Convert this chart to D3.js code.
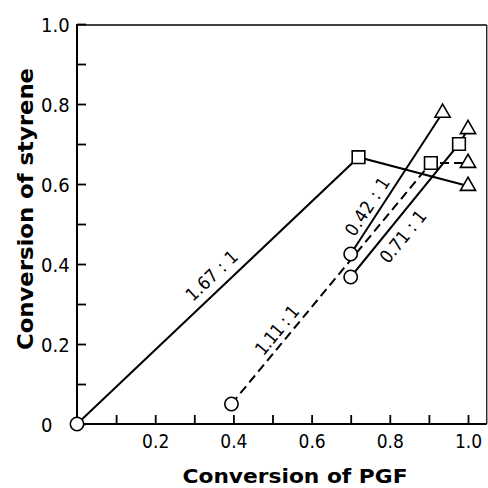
<!DOCTYPE html>
<html>
<head>
<meta charset="utf-8">
<script src="https://cdn.jsdelivr.net/npm/d3@7"></script>
<style>
  body { margin: 0; background: #fff; }
  svg { display: block; }
  .tick text { font-family: "Liberation Sans Narrow", "DejaVu Sans Condensed", "DejaVu Sans", sans-serif; font-stretch: condensed; }
</style>
</head>
<body>
<div id="chart"></div>
<script>
// ratio of each run (PGF : styrene)
var ratios = ["1.67 : 1", "1.11 : 1", "0.42 : 1", "0.71 : 1"];
// conversion of PGF for each point of a run
var pgf = [
  [0, 0.72, 1.0],
  [0.395, 0.905, 1.0],
  [0.70, 0.935],
  [0.70, 0.977, 1.0]
];
// conversion of styrene for each point of a run
var styrene = [
  [0, 0.667, 0.595],
  [0.05, 0.6525, 0.6525],
  [0.425, 0.778],
  [0.3675, 0.70, 0.737]
];
// marker used at each point
var shapes = [
  ["circle", "square", "triangle"],
  ["circle", "square", "triangle"],
  ["circle", "triangle"],
  ["circle", "square", "triangle"]
];
var dashed = [false, true, false, false];

var xTicks = [0.1, 0.2, 0.3, 0.4, 0.5, 0.6, 0.7, 0.8, 0.9, 1.0];
var yTicks = [0, 0.1, 0.2, 0.3, 0.4, 0.5, 0.6, 0.7, 0.8, 0.9, 1.0];

//Width and height
var w = 488;
var h = 488;

var xScale = d3.scaleLinear().domain([0, 1]).range([77, 468]);
var yScale = d3.scaleLinear().domain([0, 1]).range([424, 24]);
var xMax = 1.048; // frame goes a bit past 1.0

var svg = d3.select("#chart")
  .append("svg")
  .attr("width", w)
  .attr("height", h);

var fmt = function(d) { return d === 0 ? "0" : d3.format(".1f")(d); };
var isMajor = function(d) { return Math.round(d * 10) % 2 === 0; };

//X axis, ticks pointing inward
var xAxis = d3.axisBottom(xScale)
  .tickValues(xTicks)
  .tickSizeInner(-9)
  .tickSizeOuter(0)
  .tickFormat(function(d) { return isMajor(d) ? fmt(d) : ""; });

var gx = svg.append("g")
  .attr("transform", "translate(0," + yScale(0) + ")")
  .call(xAxis);
gx.select(".domain").remove();
gx.selectAll(".tick line").attr("stroke", "#000").attr("stroke-width", 1.8);
gx.selectAll(".tick text")
  .attr("y", 24)
  .attr("dy", 0)
  .style("font-size", "19px")
  .attr("fill", "#000");

//Y axis
var yAxis = d3.axisLeft(yScale)
  .tickValues(yTicks)
  .tickSizeInner(-9)
  .tickSizeOuter(0)
  .tickFormat(function(d) { return isMajor(d) ? fmt(d) : ""; });

var gy = svg.append("g")
  .attr("transform", "translate(" + xScale(0) + ",0)")
  .call(yAxis);
gy.select(".domain").remove();
gy.selectAll(".tick line").attr("stroke", "#000").attr("stroke-width", 1.8);
gy.selectAll(".tick text")
  .attr("x", -36)
  .attr("dy", "0.36em")
  .attr("text-anchor", "start")
  .style("font-size", "20px")
  .attr("fill", "#000");

//Frame
var frame = svg.append("g").attr("stroke", "#000").attr("fill", "none");
frame.append("line")
  .attr("x1", xScale(0)).attr("x2", xScale(0))
  .attr("y1", yScale(1)).attr("y2", yScale(0))
  .attr("stroke-width", 2);
frame.append("line")
  .attr("x1", xScale(0)).attr("x2", xScale(xMax))
  .attr("y1", yScale(0)).attr("y2", yScale(0))
  .attr("stroke-width", 2);
frame.append("line")
  .attr("x1", xScale(0)).attr("x2", xScale(xMax))
  .attr("y1", yScale(1) + 1).attr("y2", yScale(1) + 1)
  .attr("stroke-width", 1.6);
frame.append("line")
  .attr("x1", xScale(xMax)).attr("x2", xScale(xMax))
  .attr("y1", yScale(1) + 1).attr("y2", yScale(0))
  .attr("stroke-width", 1.2);

//Lines
var line = d3.line()
  .x(function(d) { return xScale(d[0]); })
  .y(function(d) { return yScale(d[1]); });

var runs = ratios.map(function(r, i) {
  return {
    name: r,
    dashed: dashed[i],
    points: pgf[i].map(function(x, j) { return [x, styrene[i][j], shapes[i][j]]; })
  };
});

svg.selectAll("path.run")
  .data(runs)
  .enter()
  .append("path")
  .attr("class", "run")
  .attr("d", function(d) { return line(d.points); })
  .attr("fill", "none")
  .attr("stroke", "#000")
  .attr("stroke-width", 2)
  .attr("stroke-dasharray", function(d) { return d.dashed ? "9,5" : null; });

//Markers on top
var symbolOf = {
  circle: d3.symbol(d3.symbolCircle, 140),
  square: d3.symbol(d3.symbolSquare, 160),
  triangle: d3.symbol(d3.symbolTriangle, 100)
};
var allPoints = [];
runs.forEach(function(r) { r.points.forEach(function(p) { allPoints.push(p); }); });

svg.selectAll("path.mark")
  .data(allPoints)
  .enter()
  .append("path")
  .attr("class", "mark")
  .attr("transform", function(d) { return "translate(" + xScale(d[0]) + "," + yScale(d[1]) + ")"; })
  .attr("d", function(d) { return symbolOf[d[2]](); })
  .attr("fill", "#fff")
  .attr("stroke", "#000")
  .attr("stroke-width", 1.6);

//Ratio labels along the first segment of each run
var labelT = [0.515, 0.275, 0.29, 0.375];
var labelOff = [15, 12, 12, -15];
var labelLen = [64, 58, 66, 62];

svg.selectAll("text.ratio")
  .data(runs)
  .enter()
  .append("text")
  .attr("class", "ratio")
  .attr("transform", function(d, i) {
    var p0 = d.points[0], p1 = d.points[1];
    var x0 = xScale(p0[0]), y0 = yScale(p0[1]);
    var x1 = xScale(p1[0]), y1 = yScale(p1[1]);
    var dx = x1 - x0, dy = y1 - y0, len = Math.sqrt(dx * dx + dy * dy);
    var nx = dy / len, ny = -dx / len; // normal, up-left side
    var cx = x0 + dx * labelT[i] + nx * labelOff[i];
    var cy = y0 + dy * labelT[i] + ny * labelOff[i];
    var ang = Math.atan2(dy, dx) * 180 / Math.PI;
    return "translate(" + cx + "," + cy + ") rotate(" + ang + ")";
  })
  .attr("text-anchor", "middle")
  .attr("dy", "0.35em")
  .attr("textLength", function(d, i) { return labelLen[i]; })
  .attr("lengthAdjust", "spacing")
  .style("font-family", "'Liberation Sans Narrow', 'DejaVu Sans Condensed', sans-serif")
  .style("font-size", "18px")
  .text(function(d) { return d.name; });

//Axis titles
svg.append("text")
  .attr("x", 295)
  .attr("y", 483)
  .attr("text-anchor", "middle")
  .attr("textLength", 225)
  .attr("lengthAdjust", "spacingAndGlyphs")
  .style("font-family", "'DejaVu Sans', sans-serif")
  .style("font-weight", "bold")
  .style("font-size", "20px")
  .text("Conversion of PGF");

svg.append("text")
  .attr("transform", "translate(33,209) rotate(-90)")
  .attr("text-anchor", "middle")
  .attr("textLength", 282)
  .attr("lengthAdjust", "spacingAndGlyphs")
  .style("font-family", "'DejaVu Sans', sans-serif")
  .style("font-weight", "bold")
  .style("font-size", "21px")
  .text("Conversion of styrene");
</script>
</body>
</html>
